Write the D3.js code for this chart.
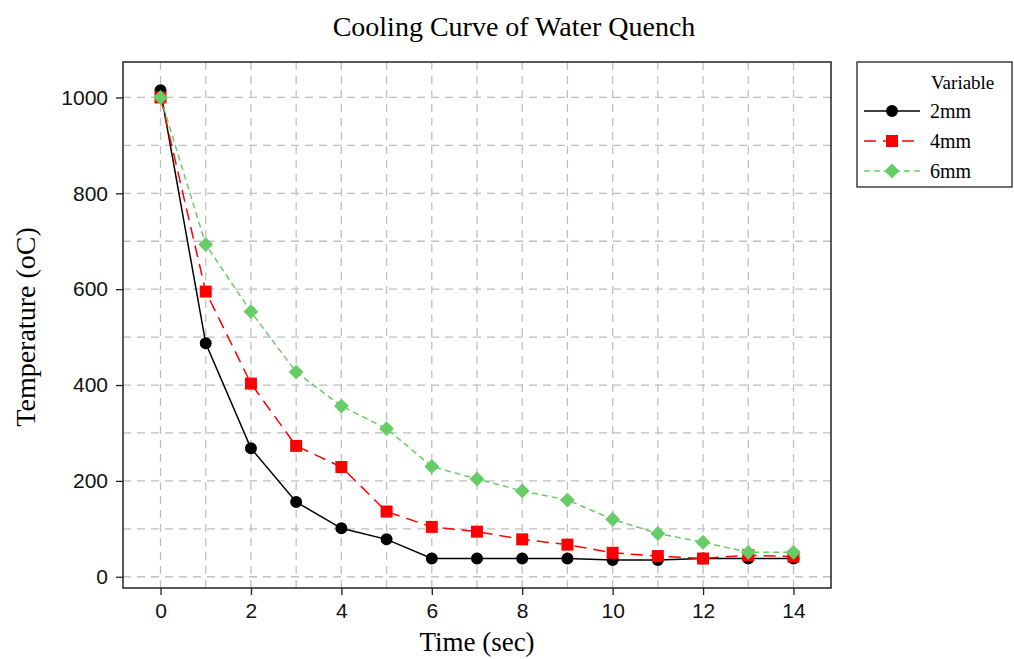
<!DOCTYPE html>
<html>
<head>
<meta charset="utf-8">
<script src="https://cdn.jsdelivr.net/npm/d3@7"></script>
<style>
  body { margin: 0; background: #fff; }
  svg { display: block; }
</style>
</head>
<body>
<script>
// data
const timeSec = [0, 1, 2, 3, 4, 5, 6, 7, 8, 9, 10, 11, 12, 13, 14];
const temp2mm = [1015, 487, 268, 156, 101, 78, 38, 38, 38, 38, 35, 35, 38, 38, 38];
const temp4mm = [1000, 595, 403, 273, 229, 136, 104, 94, 78, 67, 50, 43, 38, 45, 42];
const temp6mm = [1000, 693, 553, 427, 356, 309, 230, 204, 179, 160, 120, 90, 72, 51, 51];
const seriesNames = ['2mm', '4mm', '6mm'];
const xTicks = [0, 2, 4, 6, 8, 10, 12, 14];
const yTicks = [0, 200, 400, 600, 800, 1000];

const width = 1014;
const height = 659;
const plot = { left: 123, right: 831, top: 62, bottom: 588 };

const svg = d3.select('body')
    .append('svg')
    .attr('width', width)
    .attr('height', height);

const xScale = d3.scaleLinear()
    .domain([-0.83, 14.83])
    .range([plot.left, plot.right]);

const yScale = d3.scaleLinear()
    .domain([-23.5, 1074])
    .range([plot.bottom, plot.top]);

// grid (every 1 sec, every 100 degrees)
const grid = svg.append('g');
grid.selectAll('.gx')
    .data(d3.range(0, 15))
    .enter()
    .append('line')
    .attr('x1', d => xScale(d)).attr('x2', d => xScale(d))
    .attr('y1', plot.top).attr('y2', plot.bottom)
    .attr('stroke', '#c0c0c0')
    .attr('stroke-width', 1.3)
    .attr('stroke-dasharray', '8,6');
grid.selectAll('.gy')
    .data(d3.range(0, 1100, 100))
    .enter()
    .append('line')
    .attr('y1', d => yScale(d)).attr('y2', d => yScale(d))
    .attr('x1', plot.left).attr('x2', plot.right)
    .attr('stroke', '#c0c0c0')
    .attr('stroke-width', 1.3)
    .attr('stroke-dasharray', '8,6');

// axes
const xAxis = svg.append('g')
    .attr('transform', `translate(0, ${plot.bottom})`)
    .call(d3.axisBottom(xScale).tickValues(xTicks).tickSize(7).tickPadding(8).tickFormat(d3.format('d')));
const yAxis = svg.append('g')
    .attr('transform', `translate(${plot.left}, 0)`)
    .call(d3.axisLeft(yScale).tickValues(yTicks).tickSize(7).tickPadding(8).tickFormat(d3.format('d')));
[xAxis, yAxis].forEach(ax => {
    ax.select('.domain').remove();
    ax.selectAll('line').attr('stroke', '#222').attr('stroke-width', 1.3);
    ax.selectAll('text')
        .attr('fill', '#111')
        .style('font-family', '"Liberation Sans", Arial, sans-serif')
        .style('font-size', '21px');
});

// frame
svg.append('rect')
    .attr('x', plot.left).attr('y', plot.top)
    .attr('width', plot.right - plot.left)
    .attr('height', plot.bottom - plot.top)
    .attr('fill', 'none')
    .attr('stroke', '#222')
    .attr('stroke-width', 1.5);

// titles
const serif = '"Liberation Serif", "Times New Roman", serif';
svg.append('text')
    .attr('x', 514).attr('y', 36)
    .attr('text-anchor', 'middle')
    .style('font-family', serif).style('font-size', '28px')
    .text('Cooling Curve of Water Quench');
svg.append('text')
    .attr('x', 477).attr('y', 651)
    .attr('text-anchor', 'middle')
    .style('font-family', serif).style('font-size', '27px')
    .text('Time (sec)');
svg.append('text')
    .attr('transform', 'translate(35, 327) rotate(-90)')
    .attr('text-anchor', 'middle')
    .style('font-family', serif).style('font-size', '28px')
    .text('Temperature (oC)');

// series
const series = [
    { name: seriesNames[0], values: temp2mm, color: '#000000', dash: null, symbol: d3.symbolCircle, size: 113, rot: 0 },
    { name: seriesNames[1], values: temp4mm, color: '#ff0000', dash: '12,7', symbol: d3.symbolSquare, size: 144, rot: 0 },
    { name: seriesNames[2], values: temp6mm, color: '#66cc66', dash: '6,4', symbol: d3.symbolSquare, size: 110, rot: 45 }
];

const line = d3.line()
    .x((d, i) => xScale(timeSec[i]))
    .y(d => yScale(d));

series.forEach(s => {
    svg.append('path')
        .datum(s.values)
        .attr('d', line)
        .attr('fill', 'none')
        .attr('stroke', s.color)
        .attr('stroke-width', 1.5)
        .attr('stroke-dasharray', s.dash);
});
series.forEach(s => {
    svg.append('g').selectAll('path')
        .data(s.values)
        .enter()
        .append('path')
        .attr('d', d3.symbol().type(s.symbol).size(s.size))
        .attr('transform', (d, i) => `translate(${xScale(timeSec[i])}, ${yScale(d)}) rotate(${s.rot})`)
        .attr('fill', s.color);
});

// legend
const legend = svg.append('g');
legend.append('rect')
    .attr('x', 857).attr('y', 62)
    .attr('width', 155).attr('height', 125)
    .attr('fill', '#fff')
    .attr('stroke', '#222')
    .attr('stroke-width', 1.3);
legend.append('text')
    .attr('x', 931).attr('y', 89)
    .style('font-family', serif).style('font-size', '19px')
    .text('Variable');
series.forEach((s, i) => {
    const y = 111 + i * 30;
    legend.append('line')
        .attr('x1', 864).attr('x2', 920)
        .attr('y1', y).attr('y2', y)
        .attr('stroke', s.color)
        .attr('stroke-width', 1.5)
        .attr('stroke-dasharray', s.dash);
    legend.append('path')
        .attr('d', d3.symbol().type(s.symbol).size(s.size))
        .attr('transform', `translate(892, ${y}) rotate(${s.rot})`)
        .attr('fill', s.color);
    legend.append('text')
        .attr('x', 930).attr('y', y + 7)
        .style('font-family', serif).style('font-size', '20px')
        .text(s.name);
});
</script>
</body>
</html>
